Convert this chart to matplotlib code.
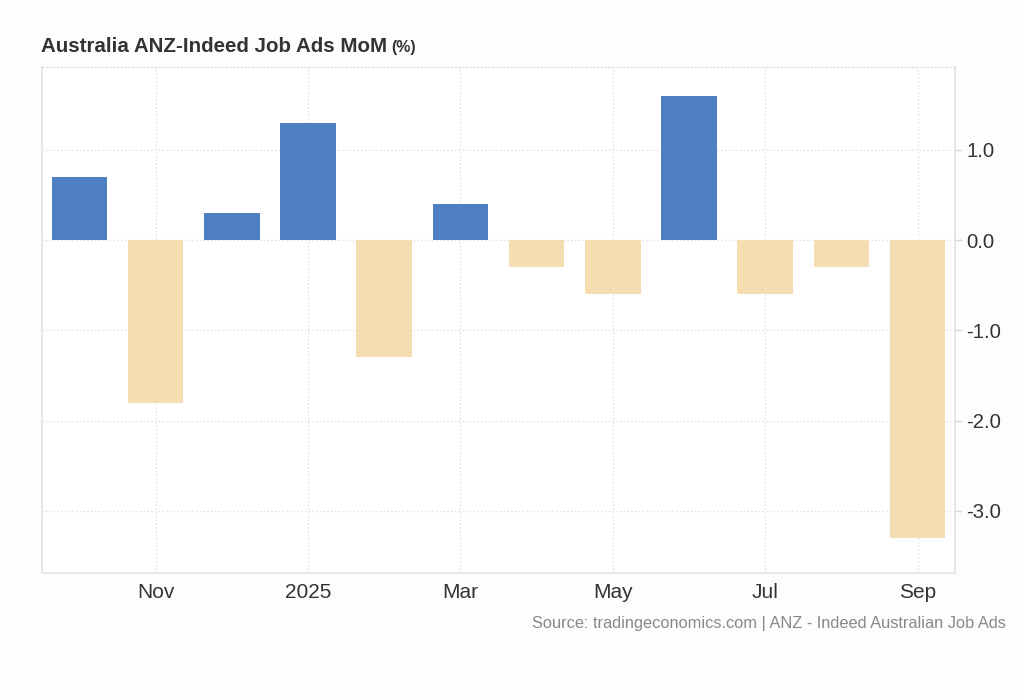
import numpy as np
import matplotlib.pyplot as plt

# monthly change in job ads, Oct 2024 - Sep 2025
months = ['Oct', 'Nov', 'Dec', 'Jan', 'Feb', 'Mar', 'Apr', 'May', 'Jun', 'Jul', 'Aug', 'Sep']
values = [0.7, -1.8, 0.3, 1.3, -1.3, 0.4, -0.3, -0.6, 1.6, -0.6, -0.3, -3.3]
tick_idx = [1, 3, 5, 7, 9, 11]
tick_labels = ['Nov', '2025', 'Mar', 'May', 'Jul', 'Sep']
y_ticks = [-3.0, -2.0, -1.0, 0.0, 1.0]

BLUE = '#4e80c1'
WHEAT = '#f5ddb2'
GRID = '#d9d9d9'

plt.rcParams['font.family'] = ['Liberation Sans', 'DejaVu Sans']

fig = plt.figure(figsize=(10.24, 7), dpi=100)
fig.patch.set_facecolor('#fdfdfd')
ax = fig.add_axes([0.041, 0.1814, 0.8916, 0.7229])
ax.set_facecolor('white')

x = np.arange(len(months))
colors = [BLUE if v >= 0 else WHEAT for v in values]
ax.bar(x, values, width=0.73, color=colors, zorder=3)

ax.set_xlim(-0.49, 11.49)
ax.set_ylim(-3.69, 1.92)

ax.set_xticks(tick_idx)
ax.set_xticklabels(tick_labels)
ax.set_yticks(y_ticks)
ax.set_yticklabels(['%.1f' % t for t in y_ticks])
ax.yaxis.tick_right()

ax.tick_params(axis='x', length=0, pad=7, labelsize=15, labelcolor='#333333')
ax.tick_params(axis='y', length=5, width=1, color=GRID, pad=3, labelsize=14.6, labelcolor='#333333')

ax.grid(True, color=GRID, linestyle=(0, (1, 2)), linewidth=0.9, zorder=0)

for side in ['left', 'bottom', 'right']:
    ax.spines[side].set_color('#e3e3e3')
    ax.spines[side].set_linewidth(1.2)
ax.spines['top'].set_color(GRID)
ax.spines['top'].set_linestyle((0, (1, 2)))
ax.spines['top'].set_linewidth(0.9)

title = fig.text(0.04, 0.926, 'Australia ANZ-Indeed Job Ads MoM', fontsize=14.8,
                 fontweight='bold', color='#333333', va='baseline')
fig.canvas.draw()
bb = title.get_window_extent(fig.canvas.get_renderer())
fig.text(bb.x1 / fig.bbox.width + 0.004, 0.926, '(%)', fontsize=11.5, fontweight='bold',
         color='#333333', va='baseline')

fig.text(0.982, 0.098, 'Source: tradingeconomics.com | ANZ - Indeed Australian Job Ads',
         fontsize=11.75, color='#888888', ha='right', va='bottom')

fig.savefig('out.png', dpi=100, facecolor=fig.get_facecolor())
